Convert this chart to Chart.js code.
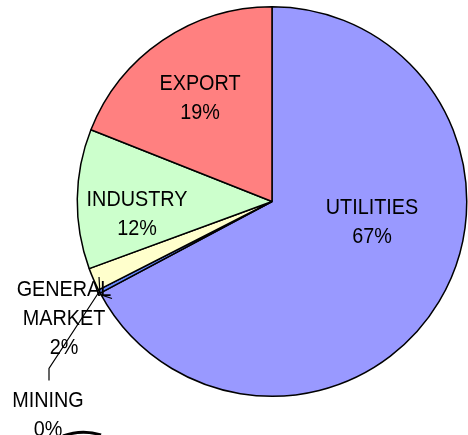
<!DOCTYPE html>
<html>
<head>
<meta charset="utf-8">
<script src="https://cdn.jsdelivr.net/npm/chart.js@4"></script>
<style>
  html, body { margin: 0; padding: 0; background: #fff; }
  #chart { display: block; }
</style>
</head>
<body>
<canvas id="chart" width="468" height="435"></canvas>
<script>
"use strict";

let NAMES = ["UTILITIES", "MINING", "GENERAL MARKET", "INDUSTRY", "EXPORT"];
let SHARES = [67.2, 0.3, 1.9, 11.6, 19.0];
let COLORS = ["#9999FF", "#6688FF", "#FFFFCC", "#CCFFCC", "#FF8080"];

// label block centres, relative to the pie centre
let LABEL_AT = [[100, 20], [-224, 213], [-208, 116], [-135, 11.5], [-72, -104]];
let LINE_GAP = 29;

let labelsPlugin = {
    id: "pieLabels",
    afterDatasetsDraw(chart) {
        let ctx = chart.ctx;
        let arcs = chart.getDatasetMeta(0).data;
        let cx = arcs[0].x, cy = arcs[0].y, r = arcs[0].outerRadius;
        ctx.save();

        // leader lines for the thin slices
        ctx.strokeStyle = "#000";
        ctx.lineWidth = 1.2;
        let mine = arcs[1];
        let a = (mine.startAngle + mine.endAngle) / 2;
        ctx.beginPath();
        ctx.moveTo(cx + Math.cos(a) * r, cy + Math.sin(a) * r);
        ctx.lineTo(cx - 223, cy + 167);
        ctx.lineTo(cx - 223, cy + 179);
        ctx.stroke();
        let gm = arcs[2];
        a = (gm.startAngle + gm.endAngle) / 2;
        ctx.beginPath();
        ctx.moveTo(cx + Math.cos(a) * (r - 6), cy + Math.sin(a) * (r - 6));
        ctx.lineTo(cx - 172, cy + 93);
        ctx.lineTo(cx - 160, cy + 97);
        ctx.stroke();

        ctx.fillStyle = "#000";
        ctx.font = "22px 'Liberation Sans', Arial, sans-serif";
        ctx.textAlign = "center";
        ctx.textBaseline = "middle";
        for (let i = 0; i < NAMES.length; ++i) {
            let lines = NAMES[i].split(" ");
            lines.push(Math.round(SHARES[i]) + "%");
            let x = cx + LABEL_AT[i][0];
            let y0 = cy + LABEL_AT[i][1] - (lines.length - 1) * LINE_GAP / 2;
            for (let j = 0; j < lines.length; ++j) {
                // the original type is narrow, so squeeze it sideways
                ctx.save();
                ctx.translate(x, y0 + j * LINE_GAP);
                ctx.scale(0.9, 1);
                ctx.fillText(lines[j], 0, 1);
                ctx.restore();
            }
        }

        // stray stroke at the bottom edge
        ctx.lineWidth = 3;
        ctx.beginPath();
        ctx.moveTo(63, 436);
        ctx.quadraticCurveTo(82, 429, 101, 435);
        ctx.stroke();
        ctx.restore();
    }
};

let chart = new Chart(document.getElementById("chart"), {
    type: "pie",
    plugins: [labelsPlugin],
    options: {
        responsive: false,
        animation: false,
        events: [],
        layout: {
            padding: { left: 76, right: 0, top: 6, bottom: 38 }
        },
        plugins: {
            legend: { display: false },
            tooltip: { enabled: false }
        }
    },
    data: {
        labels: NAMES,
        datasets: [{
            data: SHARES,
            backgroundColor: COLORS,
            borderColor: "#000",
            borderWidth: 1.5
        }]
    }
});
</script>
</body>
</html>
